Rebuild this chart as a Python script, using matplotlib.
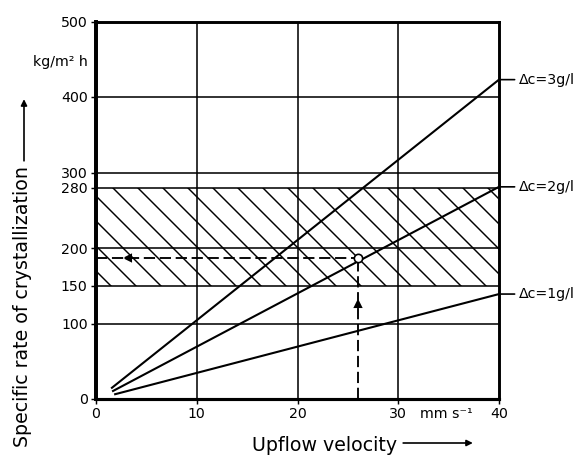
import matplotlib
matplotlib.use("Agg")
import matplotlib.pyplot as plt
from matplotlib.transforms import blended_transform_factory

# ---- data ----
velocity_start = [1.5, 1.6, 1.8]          # mm/s, left ends of the three lines (3, 2, 1 g/l)
velocity_end = 40
rate_3gl = [14, 423]                       # kg/m^2 h
rate_2gl = [10, 281]
rate_1gl = [6, 139]
series_labels = ["Δc=3g/l", "Δc=2g/l", "Δc=1g/l"]

band_low, band_high = 150, 280             # hatched operating band
op_velocity, op_rate = 26, 187             # operating point
arrow_h_x = 3.2                            # arrow on horizontal dashed line
arrow_v_y = 126                            # arrow on vertical dashed line

y_ticks = [0, 100, 150, 200, 280, 300, 400, 500]
x_ticks = [0, 10, 20, 30, 40]
h_grid = [100, 150, 200, 280, 300, 400]
v_grid = [10, 20, 30]

DPI = 150
plt.rcParams["hatch.linewidth"] = 0.7
fig = plt.figure(figsize=(584 / DPI, 459 / DPI), dpi=DPI)
ax = fig.add_axes([96 / 584, 1 - 399 / 459, 403 / 584, (399 - 21.5) / 459])
ax.set_xlim(0, 40)
ax.set_ylim(0, 500)

tick_font = ["DejaVu Sans"]

# hatched band
ax.axhspan(band_low, band_high, facecolor="none", edgecolor="black",
           hatch="\\\\", linewidth=0, zorder=1)

for y in h_grid:
    ax.axhline(y, color="black", lw=0.75, zorder=2)
for x in v_grid:
    ax.axvline(x, color="black", lw=0.75, zorder=2)

series = [rate_3gl, rate_2gl, rate_1gl]
for xs, rates, lab in zip(velocity_start, series, series_labels):
    ax.plot([xs, velocity_end], rates, color="black", lw=1.0, zorder=3,
            solid_capstyle="butt")
    ax.annotate(lab, xy=(velocity_end, rates[1]), xytext=(9.5, 0),
                textcoords="offset points", ha="left", va="center",
                fontsize=6.8, family=tick_font, annotation_clip=False,
                arrowprops=dict(arrowstyle="-", lw=0.8, shrinkA=0, shrinkB=0))

# operating point with dashed guides
ax.plot([0, op_velocity], [op_rate, op_rate], color="black", lw=0.9,
        dashes=(6, 2.5), zorder=3)
ax.plot([op_velocity, op_velocity], [0, op_rate], color="black", lw=0.9,
        dashes=(6, 2.5), zorder=3)
ax.plot([op_velocity], [op_rate], marker="o", ms=4, mfc="white",
        mec="black", mew=0.8, zorder=4)
ax.plot([arrow_h_x], [op_rate], marker="<", ms=2.6, color="black", zorder=4)
ax.plot([op_velocity], [arrow_v_y], marker="^", ms=2.6, color="black", zorder=4)

# spines
for side, w in [("left", 1.9), ("right", 1.4), ("top", 1.4), ("bottom", 1.5)]:
    ax.spines[side].set_linewidth(w)

ax.set_yticks(y_ticks)
ax.set_xticks(x_ticks)
ax.tick_params(axis="both", direction="out", length=2.5, width=0.7, pad=1.5,
               labelsize=6.8)
for lbl in ax.get_xticklabels() + ax.get_yticklabels():
    lbl.set_family(tick_font)

# units
ax.text(-0.02, 447, "kg/m² h", transform=blended_transform_factory(ax.transAxes, ax.transData),
        ha="right", va="center", fontsize=6.8, family=tick_font)
ax.text(34.8, -0.021, "mm s⁻¹", transform=blended_transform_factory(ax.transData, ax.transAxes),
        ha="center", va="top", fontsize=6.8, family=tick_font)

# axis labels with arrows
fig.text(28 / 584, 1 - 447 / 459, "Specific rate of crystallization",
         rotation=90, rotation_mode="anchor", ha="left", va="baseline",
         fontsize=9.1, family="DejaVu Sans")
fig.text(252 / 584, 1 - 451 / 459, "Upflow velocity", ha="left", va="baseline",
         fontsize=9.1, family="DejaVu Sans")
fig.add_artist(matplotlib.patches.FancyArrowPatch(
    (24 / 584, 1 - 165 / 459), (24 / 584, 1 - 95 / 459), transform=fig.transFigure,
    arrowstyle="-|>", mutation_scale=6, lw=0.8, color="black"))
fig.add_artist(matplotlib.patches.FancyArrowPatch(
    (399 / 584, 1 - 443 / 459), (477 / 584, 1 - 443 / 459), transform=fig.transFigure,
    arrowstyle="-|>", mutation_scale=6, lw=0.8, color="black"))

fig.savefig("out.png", dpi=DPI)
